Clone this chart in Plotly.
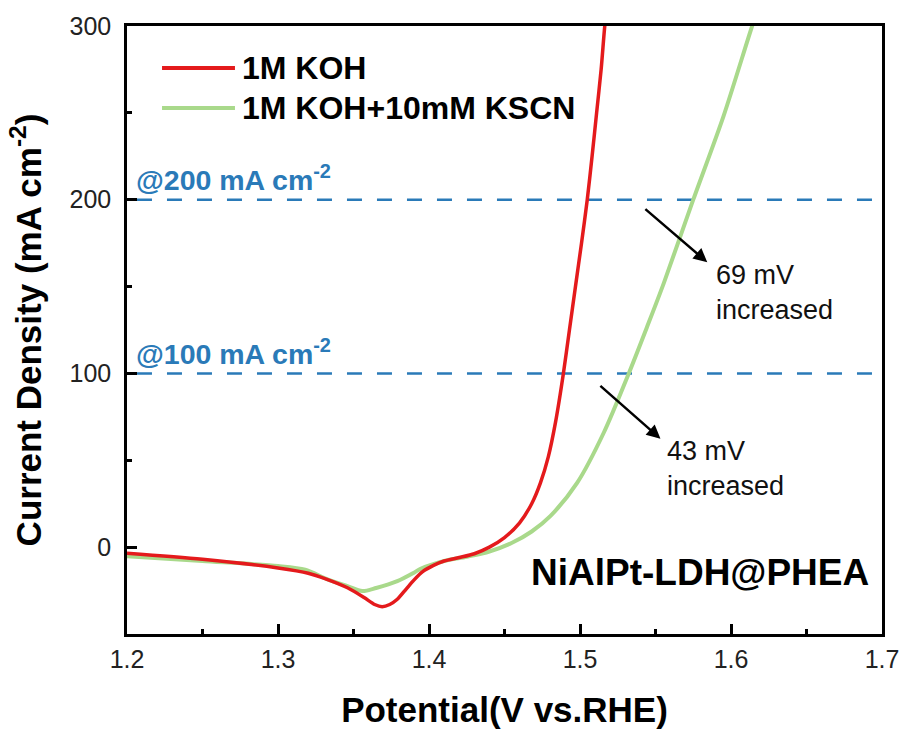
import plotly.graph_objects as go

# ---- data ----
series_names = ["1M KOH", "1M KOH+10mM KSCN"]

koh_potential = [1.20, 1.25, 1.30, 1.32, 1.332, 1.346, 1.357, 1.364, 1.369, 1.374, 1.379,
                 1.385, 1.39, 1.396, 1.403, 1.41, 1.42, 1.43, 1.44, 1.45, 1.46, 1.468,
                 1.4738, 1.479, 1.4838, 1.489, 1.493, 1.497, 1.501, 1.5048, 1.508, 1.511,
                 1.514, 1.5164, 1.518]
koh_current = [-3.5, -7, -12, -15, -18.4, -23.4, -29, -33, -34.3, -33, -30,
               -24, -19, -14, -10.5, -8, -6, -3.8, 0, 5.5, 14, 25,
               37, 52, 72, 100, 125, 150, 175, 200, 225, 250,
               275, 300, 312]

kscn_potential = [1.20, 1.25, 1.30, 1.318, 1.332, 1.346, 1.3558, 1.365, 1.379, 1.39, 1.3944,
                  1.41, 1.425, 1.44, 1.455, 1.468, 1.4805, 1.4981, 1.5158, 1.5323,
                  1.5445, 1.5555, 1.575, 1.595, 1.614, 1.618]
kscn_current = [-5.2, -8, -10.9, -13, -18.2, -22.4, -25.3, -23.5, -19.6, -14.7, -12.5,
                -8, -5.5, -2.5, 2.5, 9, 18, 37, 66, 100,
                127, 152, 200, 248, 300, 310]

ref_levels = [100, 200]
ref_labels = ["@100 mA cm<sup>-2</sup>", "@200 mA cm<sup>-2</sup>"]
ref_x = [1.2066, 1.7]
x_range = [1.2, 1.7]
y_range = [-50, 300]

red = "#e41a1c"
green = "#a9d98b"
blue = "#2a7ab8"
FONT = "Arial, Liberation Sans, sans-serif"

fig = go.Figure()

for lvl in ref_levels:
    fig.add_trace(go.Scatter(x=ref_x, y=[lvl, lvl], mode="lines",
                             line=dict(color=blue, width=2.5, dash="15px,15px"),
                             showlegend=False, hoverinfo="skip"))

fig.add_trace(go.Scatter(x=kscn_potential, y=kscn_current, mode="lines", name=series_names[1],
                         line=dict(color=green, width=4, shape="spline", smoothing=0.8),
                         showlegend=False))
fig.add_trace(go.Scatter(x=koh_potential, y=koh_current, mode="lines", name=series_names[0],
                         line=dict(color=red, width=3.5, shape="spline", smoothing=0.8),
                         showlegend=False))

# manual legend
leg_colors = [red, green]
leg_y = [0.931, 0.865]
for nm, c, yy in zip(series_names, leg_colors, leg_y):
    fig.add_shape(type="line", xref="paper", yref="paper", x0=0.0464, x1=0.143, y0=yy, y1=yy,
                  line=dict(color=c, width=4))
    fig.add_annotation(xref="paper", yref="paper", x=0.150, y=yy, xanchor="left", yanchor="middle",
                       text="<b>" + nm + "</b>", showarrow=False,
                       font=dict(family=FONT, size=32, color="#000"))

# reference labels
for lvl, lab in zip(ref_levels, ref_labels):
    fig.add_annotation(x=1.2046, y=lvl + 12.5, xanchor="left", yanchor="middle",
                       text="<b>" + lab + "</b>", showarrow=False,
                       font=dict(family=FONT, size=28.5, color=blue))

# arrows
fig.add_annotation(x=1.5843, y=164.0, ax=1.5423, ay=195.3, axref="x", ayref="y",
                   text="", showarrow=True, arrowhead=2, arrowsize=1.1, arrowwidth=2.5,
                   arrowcolor="#000")
fig.add_annotation(x=1.5533, y=62.4, ax=1.5125, ay=93.6, axref="x", ayref="y",
                   text="", showarrow=True, arrowhead=2, arrowsize=1.1, arrowwidth=2.5,
                   arrowcolor="#000")

fig.add_annotation(x=1.5885, y=146.5, xanchor="left", yanchor="middle", align="left",
                   text="69 mV<br>increased", showarrow=False,
                   font=dict(family=FONT, size=27, color="#111"))
fig.add_annotation(x=1.5560, y=45, xanchor="left", yanchor="middle", align="left",
                   text="43 mV<br>increased", showarrow=False,
                   font=dict(family=FONT, size=27, color="#111"))

fig.add_annotation(x=1.693, y=-14.6, xanchor="right", yanchor="middle",
                   text="<b>NiAlPt-LDH@PHEA</b>", showarrow=False,
                   font=dict(family=FONT, size=37, color="#000"))

axis_common = dict(showline=True, linecolor="#000", linewidth=2.5, mirror=True,
                   ticks="inside", tickcolor="#000", tickwidth=2.5, ticklen=10,
                   showgrid=False, zeroline=False, automargin=False,
                   tickfont=dict(family=FONT, size=25, color="#222"))

fig.update_xaxes(range=x_range, dtick=0.1, tick0=1.2, tickformat=".1f",
                 minor=dict(ticks="inside", dtick=0.05, ticklen=5, tickwidth=2.5, tickcolor="#000", showgrid=False),
                 title=dict(text="<b>Potential(V vs.RHE)</b>", font=dict(family=FONT, size=35, color="#000"),
                            standoff=28),
                 ticklabelstandoff=1,
                 **axis_common)
fig.update_yaxes(range=y_range, dtick=100, tick0=0,
                 minor=dict(ticks="inside", dtick=50, ticklen=5, tickwidth=2.5, tickcolor="#000", showgrid=False),
                 title=dict(text="<b>Current Density (mA cm<sup>-2</sup>)</b>",
                            font=dict(family=FONT, size=35, color="#000"), standoff=18),
                 ticklabelstandoff=8,
                 **axis_common)

fig.update_layout(width=902, height=729, margin=dict(l=127, r=20, t=26, b=95),
                  plot_bgcolor="white", paper_bgcolor="white", showlegend=False)

fig.write_html("out.html", config={"displayModeBar": False},
               post_script="document.body.style.margin='0px';document.body.style.overflow='hidden';")
